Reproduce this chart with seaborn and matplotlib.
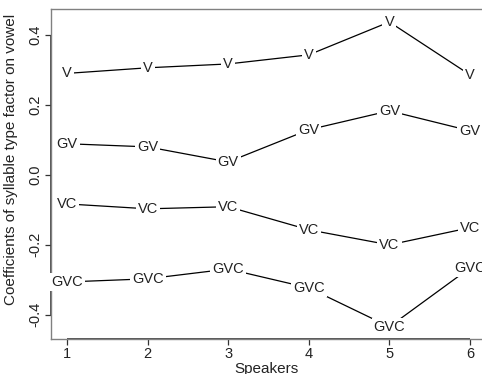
import pandas as pd
import matplotlib
matplotlib.use('Agg')
import matplotlib.pyplot as plt
import seaborn as sns

# Coefficients
speakers = [1, 2, 3, 4, 5, 6]
v_coef = [0.290, 0.306, 0.317, 0.343, 0.437, 0.286]
gv_coef = [0.089, 0.080, 0.037, 0.129, 0.183, 0.126]
vc_coef = [-0.083, -0.097, -0.091, -0.157, -0.200, -0.151]
gvc_coef = [-0.306, -0.297, -0.269, -0.323, -0.434, -0.266]
types = ['V', 'GV', 'VC', 'GVC']

df = pd.DataFrame({
    'speaker': speakers * 4,
    'coef': v_coef + gv_coef + vc_coef + gvc_coef,
    'type': [t for t in types for _ in speakers],
})

sns.set_style("white")
plt.rcParams['font.family'] = ['Liberation Sans', 'DejaVu Sans']

fig = plt.figure(figsize=(4.82, 3.74), dpi=100)
ax = fig.add_axes([51 / 482, 35 / 374, 1 - 51 / 482, 330 / 374])

sns.lineplot(data=df, x='speaker', y='coef', hue='type', units='type',
             estimator=None, palette=['black'] * 4, linewidth=0.9,
             legend=False, ax=ax)

# labels as the point markers, white box breaks the line like R type="b"
for _, row in df.iterrows():
    ax.text(row['speaker'], row['coef'], row['type'], ha='center', va='center',
            fontsize=10.5, color='#222222',
            bbox=dict(facecolor='white', edgecolor='none', pad=1.5))

ax.set_xlim(0.8, 6.15)
ax.set_ylim(-0.469, 0.474)
ax.set_xticks(speakers)
ax.set_yticks([-0.4, -0.2, 0.0, 0.2, 0.4])
ax.set_yticklabels(['-0.4', '-0.2', '0.0', '0.2', '0.4'], rotation=90, va='center')
ax.tick_params(direction='out', length=4, width=0.9, color='#333333',
               labelsize=10.5, labelcolor='#222222', left=True, bottom=True, pad=2)

for side in ['top', 'left', 'bottom']:
    ax.spines[side].set_color('#808080')
    ax.spines[side].set_linewidth(1)
ax.spines['right'].set_visible(False)

# darker axis line between the first and last tick
ax.hlines(ax.get_ylim()[0], 1, 6, color='#333333', linewidth=1.2, clip_on=False)
ax.vlines(0.8, -0.4, 0.4, color='#333333', linewidth=1.2, clip_on=False)

ax.set_xlabel('Speakers', fontsize=11, color='#222222')
ax.set_ylabel('Coefficients of syllable type factor on vowel', fontsize=11,
              color='#222222')
ax.xaxis.set_label_coords(0.5, -0.07)
ax.yaxis.set_label_coords(-0.077, 0.545)

fig.savefig('out.png', dpi=100)
